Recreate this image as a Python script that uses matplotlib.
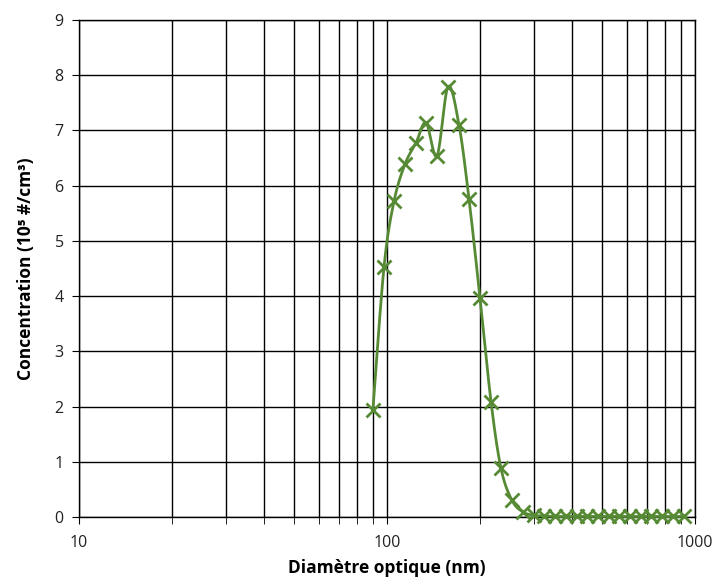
import numpy as np
import matplotlib
matplotlib.use("Agg")
import matplotlib.pyplot as plt
from matplotlib.ticker import FixedLocator, NullFormatter, FixedFormatter

plt.rcParams['font.family'] = ['Open Sans', 'DejaVu Sans']

diameter_nm = [90.0, 97.8, 105.4, 114.4, 124.3, 133.9, 145.3, 157.8, 171.3, 184.6,
               200.4, 217.7, 234.5, 254.6, 276.5, 300.2, 323.4, 351.2, 381.3, 414.0,
               446.1, 484.3, 525.8, 566.5, 615.2, 667.9, 719.6, 781.4, 848.3, 921.0]
concentration = [1.94, 4.53, 5.72, 6.39, 6.78, 7.14, 6.54, 7.79, 7.10, 5.76,
                 3.97, 2.08, 0.88, 0.30, 0.09, 0.03, 0.02, 0.01, 0.01, 0.01,
                 0.01, 0.01, 0.01, 0.01, 0.01, 0.01, 0.01, 0.01, 0.01, 0.01]
x_tick_labels = ['10', '100', '1000']
y_ticks = list(range(0, 10))

green = '#568A35'

fig = plt.figure(figsize=(7.13, 5.81), dpi=100)
ax = fig.add_axes([79/713, 1-517/581, (695-79)/713, (517-20)/581])
ax.set_xscale('log')
ax.set_xlim(10, 1000)
ax.set_ylim(0, 9)

# Excel-like smoothed line (Bezier through points in display-proportional space)
lx = np.log10(np.array(diameter_nm)) / 2.0
ly = np.array(concentration) / 9.0 * (497/616)
P = np.column_stack([lx, ly])
Pext = np.vstack([P[0], P, P[-1]])
curve = []
for i in range(1, len(Pext) - 2):
    p0, p1, p2, p3 = Pext[i-1], Pext[i], Pext[i+1], Pext[i+2]
    c1 = p1 + (p2 - p0) / 6.0
    c2 = p2 - (p3 - p1) / 6.0
    t = np.linspace(0, 1, 30)[:, None]
    seg = ((1-t)**3)*p1 + 3*((1-t)**2)*t*c1 + 3*(1-t)*(t**2)*c2 + (t**3)*p2
    curve.append(seg)
curve = np.vstack(curve)
cx = 10 ** (curve[:, 0] * 2.0)
cy = curve[:, 1] / (497/616) * 9.0
ax.plot(cx, cy, color=green, lw=2.0, zorder=3, clip_on=False)
ax.plot(diameter_nm, concentration, linestyle='none', marker='x', ms=10, mew=2.0,
        color=green, zorder=4, clip_on=False)

# grid
ax.xaxis.set_major_locator(FixedLocator([10, 100, 1000]))
ax.xaxis.set_major_formatter(FixedFormatter(x_tick_labels))
minor = [m * d for d in (10, 100) for m in range(2, 10)]
ax.xaxis.set_minor_locator(FixedLocator(minor))
ax.xaxis.set_minor_formatter(NullFormatter())
ax.set_yticks(y_ticks)
ax.grid(True, which='both', axis='x', color='black', lw=1.0)
ax.grid(True, which='major', axis='y', color='black', lw=1.0)
ax.set_axisbelow(True)

for s in ax.spines.values():
    s.set_color('black')
    s.set_linewidth(1.0)

ax.tick_params(axis='both', which='both', direction='out', color='black',
               labelsize=11.5, labelcolor='#222222')
ax.tick_params(axis='x', which='major', length=5, pad=8)
ax.tick_params(axis='x', which='minor', length=5)
ax.tick_params(axis='y', which='major', length=5, pad=6)

ax.set_xlabel('Diamètre optique (nm)', fontsize=12.5, fontweight='bold', labelpad=6)
ax.set_ylabel('Concentration (10⁵ #/cm³)', fontsize=12.5, fontweight='bold', labelpad=14)

fig.savefig('out.png', dpi=100)
